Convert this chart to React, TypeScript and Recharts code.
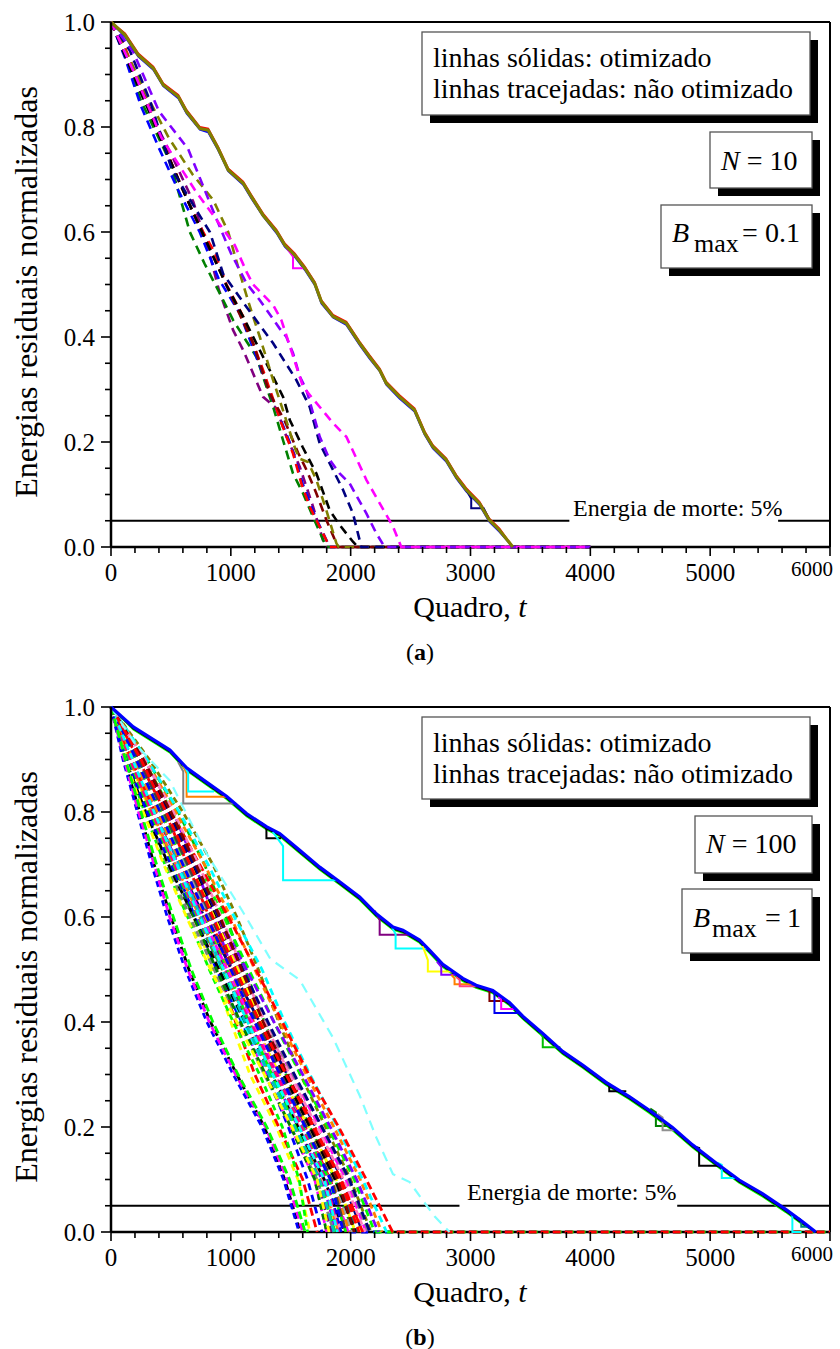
import React from 'react';
import { LineChart, Line, XAxis, YAxis, ReferenceLine, Label } from 'recharts';

const FONT = '"Liberation Serif", "Times New Roman", serif';

// ---------- axes ----------
const X_TICKS = [0, 200, 400, 600, 800, 1000, 1200, 1400, 1600, 1800, 2000, 2200, 2400, 2600, 2800, 3000, 3200, 3400, 3600, 3800, 4000, 4200, 4400, 4600, 4800, 5000, 5200, 5400, 5600, 5800, 6000];
const Y_TICKS = [0, 0.05, 0.1, 0.15, 0.2, 0.25, 0.3, 0.35, 0.4, 0.45, 0.5, 0.55, 0.6, 0.65, 0.7, 0.75, 0.8, 0.85, 0.9, 0.95, 1];
const DEATH_LEVEL = 0.05;

// ---------- panel (a): N = 10, Bmax = 0.1 ----------
type P = [number, number][];
const DASH_A_PURPLE: P = [[0, 1], [90, 0.95], [186, 0.9], [269, 0.854], [519, 0.74], [686, 0.658], [825, 0.556], [900, 0.49], [1019, 0.413], [1103, 0.375], [1269, 0.286], [1300, 0.28], [1381, 0.264], [1464, 0.21], [1575, 0.153], [1686, 0.077], [1769, 0.013], [1800, 0], [4000, 0]];
const DASH_A_GREEN: P = [[0, 1], [110, 0.94], [250, 0.85], [492, 0.734], [658, 0.6], [780, 0.54], [908, 0.483], [1019, 0.432], [1214, 0.362], [1353, 0.267], [1440, 0.2], [1519, 0.14], [1603, 0.102], [1700, 0.05], [1797, 0], [4000, 0]];
const DASH_A_BLUE: P = [[0, 1], [120, 0.93], [250, 0.84], [400, 0.76], [560, 0.68], [740, 0.6], [900, 0.51], [1075, 0.445], [1200, 0.37], [1350, 0.28], [1506, 0.191], [1600, 0.12], [1700, 0.06], [1825, 0], [4000, 0]];
const DASH_A_RED: P = [[0, 1], [100, 0.96], [230, 0.89], [400, 0.79], [560, 0.7], [720, 0.62], [867, 0.56], [964, 0.5], [1103, 0.439], [1269, 0.337], [1422, 0.236], [1519, 0.178], [1590, 0.12], [1658, 0.077], [1760, 0.03], [1825, 0], [4000, 0]];
const DASH_A_MAROON: P = [[0, 1], [120, 0.94], [280, 0.86], [450, 0.76], [620, 0.67], [800, 0.58], [960, 0.5], [1060, 0.45], [1186, 0.388], [1325, 0.292], [1450, 0.24], [1560, 0.18], [1631, 0.147], [1714, 0.102], [1800, 0.05], [1894, 0], [4000, 0]];
const DASH_A_BLACK: P = [[0, 1], [110, 0.94], [260, 0.86], [430, 0.77], [600, 0.68], [780, 0.59], [960, 0.5], [1100, 0.44], [1228, 0.381], [1340, 0.33], [1436, 0.286], [1492, 0.242], [1600, 0.19], [1714, 0.14], [1825, 0.07], [1908, 0.042], [2019, 0.01], [2061, 0], [4000, 0]];
const DASH_A_OLIVE: P = [[0, 1], [130, 0.94], [300, 0.86], [480, 0.78], [680, 0.71], [853, 0.661], [978, 0.6], [1040, 0.55], [1103, 0.5], [1170, 0.45], [1242, 0.4], [1350, 0.32], [1450, 0.25], [1540, 0.185], [1575, 0.168], [1644, 0.162], [1714, 0.128], [1797, 0.07], [1881, 0.007], [1900, 0], [4000, 0]];
const DASH_A_NAVY: P = [[0, 1], [158, 0.945], [325, 0.85], [506, 0.72], [714, 0.641], [825, 0.6], [936, 0.52], [1131, 0.457], [1353, 0.388], [1547, 0.318], [1658, 0.267], [1742, 0.197], [1936, 0.109], [2019, 0.064], [2089, 0], [4000, 0]];
const DASH_A_VIOLET: P = [[0, 1], [186, 0.943], [400, 0.83], [644, 0.758], [867, 0.632], [1000, 0.56], [1131, 0.502], [1242, 0.47], [1408, 0.416], [1464, 0.4], [1519, 0.369], [1575, 0.325], [1631, 0.299], [1742, 0.21], [1825, 0.166], [1908, 0.14], [1992, 0.121], [2131, 0.064], [2214, 0.026], [2283, 0], [4000, 0]];
const DASH_A_MAGENTA: P = [[0, 1], [200, 0.9], [420, 0.78], [700, 0.68], [1033, 0.575], [1131, 0.524], [1186, 0.5], [1353, 0.461], [1422, 0.432], [1603, 0.305], [1853, 0.236], [1964, 0.21], [2131, 0.128], [2353, 0.039], [2422, 0], [4000, 0]];

const OPT_A_T = [0, 117, 228, 353, 436, 561, 631, 742, 811, 894, 978, 1103, 1172, 1269, 1381, 1450, 1533, 1617, 1700, 1756, 1853, 1964, 2075, 2158, 2242, 2297, 2408, 2533, 2617, 2686, 2797, 2881, 2964, 3075, 3158, 3242, 3353];
const OPT_A_OLIVE = [1, 0.975, 0.937, 0.912, 0.88, 0.858, 0.829, 0.797, 0.794, 0.759, 0.718, 0.693, 0.667, 0.632, 0.601, 0.575, 0.556, 0.531, 0.502, 0.467, 0.439, 0.426, 0.388, 0.362, 0.337, 0.312, 0.286, 0.261, 0.217, 0.191, 0.166, 0.134, 0.109, 0.083, 0.051, 0.032, 0];
const OPT_A_BLUE = [1, 0.972, 0.934, 0.909, 0.878, 0.855, 0.826, 0.795, 0.79, 0.756, 0.716, 0.69, 0.664, 0.63, 0.598, 0.572, 0.553, 0.528, 0.499, 0.464, 0.437, 0.423, 0.385, 0.359, 0.335, 0.309, 0.283, 0.258, 0.214, 0.188, 0.163, 0.131, 0.106, 0.08, 0.048, 0.029, 0];
const OPT_A_RED = [1, 0.978, 0.94, 0.915, 0.883, 0.861, 0.832, 0.8, 0.797, 0.762, 0.721, 0.696, 0.67, 0.635, 0.604, 0.578, 0.559, 0.534, 0.505, 0.47, 0.442, 0.429, 0.391, 0.365, 0.34, 0.315, 0.289, 0.264, 0.22, 0.194, 0.169, 0.137, 0.112, 0.086, 0.054, 0.035, 0];
const OPT_A_MAGENTA_STEP: P = [[1450, 0.575], [1519, 0.553], [1519, 0.531], [1617, 0.531], [1700, 0.502]];
const OPT_A_NAVY_STEP: P = [[2964, 0.109], [3006, 0.092], [3006, 0.074], [3110, 0.074], [3158, 0.051]];

// ---------- panel (b): N = 100, Bmax = 1 ----------
// time at which each unoptimised node reaches the energy levels below
const DASH_B_LEVELS = [1, 0.9, 0.8, 0.7, 0.6, 0.5, 0.4, 0.3, 0.2, 0.1, 0];
const DASH_B_TIMES: number[][] = [
  [0, 110, 240, 360, 500, 650, 830, 1050, 1280, 1450, 1580],
  [0, 150, 330, 520, 690, 850, 1000, 1160, 1380, 1560, 1660],
  [0, 200, 420, 600, 760, 900, 1040, 1200, 1400, 1600, 1720],
  [0, 130, 280, 450, 640, 820, 1020, 1240, 1430, 1570, 1640],
  [0, 170, 350, 530, 700, 880, 1090, 1300, 1480, 1640, 1760],
  [0, 250, 470, 650, 810, 960, 1110, 1290, 1500, 1700, 1800],
  [0, 140, 300, 470, 660, 860, 1070, 1280, 1500, 1720, 1860],
  [0, 210, 400, 580, 750, 920, 1100, 1320, 1530, 1720, 1830],
  [0, 160, 340, 540, 740, 940, 1130, 1330, 1560, 1760, 1900],
  [0, 280, 520, 700, 860, 1010, 1160, 1350, 1560, 1760, 1880],
  [0, 180, 370, 560, 760, 960, 1160, 1370, 1570, 1770, 1920],
  [0, 120, 290, 480, 690, 900, 1120, 1340, 1560, 1780, 1950],
  [0, 230, 450, 640, 820, 1000, 1190, 1400, 1620, 1830, 1970],
  [0, 190, 380, 570, 770, 980, 1200, 1420, 1640, 1850, 2000],
  [0, 300, 560, 780, 960, 1120, 1280, 1460, 1660, 1870, 2020],
  [0, 150, 320, 510, 720, 950, 1180, 1410, 1650, 1880, 2040],
  [0, 220, 430, 630, 830, 1040, 1250, 1460, 1680, 1900, 2060],
  [0, 260, 490, 690, 880, 1070, 1270, 1480, 1700, 1920, 2080],
  [0, 170, 360, 560, 780, 1010, 1240, 1470, 1710, 1930, 2100],
  [0, 240, 460, 670, 870, 1080, 1290, 1510, 1740, 1960, 2130],
  [0, 200, 410, 620, 840, 1060, 1290, 1520, 1760, 1980, 2150],
  [0, 320, 600, 850, 1050, 1230, 1400, 1580, 1790, 2000, 2170],
  [0, 270, 510, 730, 940, 1150, 1360, 1580, 1810, 2030, 2200],
  [0, 230, 450, 670, 900, 1130, 1360, 1600, 1830, 2050, 2230],
  [0, 290, 540, 780, 1000, 1200, 1410, 1630, 1860, 2080, 2260],
  [0, 300, 570, 810, 1030, 1260, 1450, 1660, 1890, 2100, 2300],
  [0, 260, 500, 740, 980, 1210, 1430, 1650, 1900, 2130, 2350],
  [0, 140, 310, 500, 690, 880, 1080, 1290, 1500, 1700, 1800],
  [0, 180, 380, 580, 770, 960, 1140, 1330, 1530, 1720, 1840],
  [0, 210, 420, 610, 790, 970, 1150, 1340, 1540, 1740, 1870],
  [0, 160, 350, 560, 760, 970, 1180, 1390, 1610, 1820, 1980],
  [0, 190, 400, 610, 810, 1010, 1210, 1430, 1650, 1860, 2010],
  [0, 250, 480, 680, 870, 1050, 1230, 1440, 1660, 1870, 2040],
  [0, 130, 300, 500, 710, 930, 1150, 1380, 1600, 1800, 1920],
  [0, 220, 440, 660, 860, 1060, 1260, 1470, 1690, 1910, 2090],
  [0, 170, 370, 580, 800, 1020, 1240, 1470, 1700, 1910, 2070],
  [0, 280, 520, 730, 920, 1100, 1280, 1490, 1720, 1940, 2120],
  [0, 200, 390, 570, 750, 930, 1120, 1320, 1530, 1740, 1860],
  [0, 240, 470, 690, 900, 1100, 1310, 1530, 1760, 1990, 2160],
  [0, 150, 330, 520, 720, 930, 1150, 1370, 1600, 1820, 1960],
  [0, 190, 390, 590, 790, 990, 1200, 1410, 1630, 1840, 1990],
  [0, 230, 440, 640, 840, 1030, 1220, 1420, 1630, 1840, 1960],
  [0, 160, 340, 530, 730, 940, 1160, 1380, 1590, 1790, 1900],
  [0, 210, 410, 600, 800, 1000, 1200, 1410, 1620, 1830, 1940],
  [0, 270, 500, 710, 910, 1090, 1270, 1470, 1680, 1890, 2030],
  [0, 180, 360, 550, 740, 940, 1140, 1350, 1570, 1780, 1890],
  [0, 120, 270, 440, 630, 830, 1050, 1280, 1510, 1720, 1820],
  [0, 250, 460, 660, 850, 1040, 1240, 1460, 1690, 1920, 2100],
  [0, 100, 220, 340, 470, 620, 800, 1020, 1260, 1440, 1570],
  [0, 110, 230, 360, 490, 640, 820, 1040, 1290, 1470, 1600],
  [0, 120, 250, 380, 520, 670, 850, 1060, 1300, 1490, 1620],
];
const DASH_B_COLORS = [
  '#000000', '#ffff00', '#ff0000', '#00ff00', '#0000ff', '#ff00ff', '#808080', '#00ffff',
  '#ff8000', '#8000ff', '#ff80c0', '#000000', '#ff0000', '#0000ff', '#00c000', '#ffff00',
  '#008080', '#804000', '#000080', '#ff00ff', '#808080', '#808000', '#00ff00', '#8000ff',
  '#ff8000', '#00ffff', '#ff0000', '#008000', '#800080', '#00ff00', '#ff00ff', '#a0a0a0',
  '#000000', '#0000ff', '#ffff00', '#ff0000', '#ff80c0', '#00c0c0', '#000080', '#00ff00',
  '#ff8000', '#404040', '#ff0080', '#0000ff', '#800000', '#00ffff', '#ffff00', '#ff0000',
  '#0000ff', '#ff00ff', '#00ff00',
];
const DASH_B_TAIL_LINES = [22, 13, 26];
const DASH_B_TAIL_END = 6000;
const DASH_B_CYAN_OUTLIER: P = [[0, 1], [200, 0.93], [490, 0.86], [800, 0.72], [1100, 0.61], [1330, 0.52], [1575, 0.48], [1853, 0.37], [2075, 0.26], [2214, 0.18], [2353, 0.11], [2492, 0.095], [2603, 0.06], [2700, 0.03], [2825, 0]];

const OPT_B_T = [0, 186, 381, 492, 631, 797, 964, 1131, 1297, 1408, 1575, 1742, 1908, 2075, 2214, 2353, 2436, 2575, 2658, 2769, 2936, 3047, 3186, 3325, 3436, 3603, 3769, 3936, 4131, 4325, 4492, 4686, 4853, 5047, 5242, 5436, 5631, 5769, 5881];
const OPT_B_BLUE = [1, 0.962, 0.934, 0.918, 0.884, 0.857, 0.83, 0.797, 0.772, 0.759, 0.727, 0.695, 0.667, 0.638, 0.606, 0.581, 0.575, 0.556, 0.537, 0.51, 0.483, 0.47, 0.46, 0.437, 0.411, 0.378, 0.344, 0.318, 0.285, 0.258, 0.232, 0.199, 0.166, 0.132, 0.099, 0.073, 0.043, 0.02, 0];
const OPT_B_GREEN = [1, 0.957, 0.929, 0.913, 0.879, 0.852, 0.825, 0.792, 0.767, 0.754, 0.722, 0.69, 0.662, 0.633, 0.601, 0.576, 0.57, 0.551, 0.532, 0.505, 0.478, 0.465, 0.455, 0.432, 0.406, 0.373, 0.339, 0.313, 0.28, 0.253, 0.227, 0.194, 0.161, 0.127, 0.094, 0.068, 0.038, 0.015, 0];
const OPT_B_BLACK = [1, 0.959, 0.931, 0.915, 0.881, 0.854, 0.827, 0.794, 0.769, 0.756, 0.724, 0.692, 0.664, 0.635, 0.603, 0.578, 0.572, 0.553, 0.534, 0.507, 0.48, 0.467, 0.457, 0.434, 0.408, 0.375, 0.341, 0.315, 0.282, 0.255, 0.229, 0.196, 0.163, 0.129, 0.096, 0.07, 0.04, 0.017, 0];
const OPT_B_STEPS: { c: string; p: P }[] = [
  { c: '#808080', p: [[560, 0.895], [603, 0.877], [603, 0.816], [1045, 0.816]] },
  { c: '#ff8000', p: [[600, 0.89], [631, 0.873], [631, 0.829], [960, 0.829]] },
  { c: '#00ffff', p: [[610, 0.888], [644, 0.875], [644, 0.839], [860, 0.839]] },
  { c: '#000000', p: [[1250, 0.78], [1297, 0.772], [1297, 0.75], [1420, 0.75]] },
  { c: '#00ffff', p: [[1350, 0.762], [1436, 0.735], [1436, 0.67], [1905, 0.67]] },
  { c: '#800080', p: [[2200, 0.612], [2242, 0.594], [2242, 0.566], [2500, 0.566]] },
  { c: '#00ffff', p: [[2340, 0.583], [2375, 0.567], [2375, 0.54], [2640, 0.54]] },
  { c: '#ffff00', p: [[2600, 0.545], [2644, 0.518], [2644, 0.496], [2860, 0.496]] },
  { c: '#8000ff', p: [[2720, 0.515], [2756, 0.505], [2756, 0.49], [2880, 0.49]] },
  { c: '#ff8000', p: [[2840, 0.49], [2867, 0.483], [2867, 0.472], [3040, 0.472]] },
  { c: '#ff4080', p: [[2880, 0.486], [2910, 0.48], [2910, 0.468], [3060, 0.468]] },
  { c: '#800000', p: [[3120, 0.465], [3158, 0.458], [3158, 0.44], [3300, 0.44]] },
  { c: '#0000ee', p: [[3160, 0.462], [3200, 0.455], [3200, 0.417], [3410, 0.417]] },
  { c: '#ff00ff', p: [[3230, 0.448], [3256, 0.444], [3256, 0.425], [3380, 0.425]] },
  { c: '#00c000', p: [[3560, 0.387], [3603, 0.372], [3603, 0.352], [3750, 0.352]] },
  { c: '#000000', p: [[4100, 0.29], [4158, 0.282], [4158, 0.268], [4300, 0.268]] },
  { c: '#008000', p: [[4500, 0.235], [4547, 0.228], [4547, 0.202], [4680, 0.202]] },
  { c: '#909090', p: [[4560, 0.225], [4603, 0.218], [4603, 0.194], [4720, 0.194]] },
  { c: '#000000', p: [[4880, 0.162], [4908, 0.16], [4908, 0.126], [5083, 0.126]] },
  { c: '#00ffff', p: [[5060, 0.132], [5097, 0.128], [5097, 0.103], [5230, 0.103]] },
  { c: '#00ffff', p: [[5650, 0.04], [5686, 0.032], [5686, 0], [5760, 0]] },
  { c: '#008080', p: [[5740, 0.026], [5760, 0.022], [5760, 0.01], [5820, 0.01]] },
];

// ---------- helpers ----------
const toData = (p: P) => p.map(([t, e]) => ({ t, e }));
const zip = (ts: number[], es: number[]) => ts.map((t, i) => ({ t, e: es[i] }));

type Series = { key: string; color: string; data: { t: number; e: number }[]; width: number; dash?: string };

const A_DASHED: Series[] = [
  ['#800080', DASH_A_PURPLE], ['#008000', DASH_A_GREEN], ['#0000ff', DASH_A_BLUE], ['#ff0000', DASH_A_RED],
  ['#800000', DASH_A_MAROON], ['#000000', DASH_A_BLACK], ['#808000', DASH_A_OLIVE], ['#000080', DASH_A_NAVY],
  ['#8000ff', DASH_A_VIOLET], ['#ff00ff', DASH_A_MAGENTA],
].map(([c, p], i) => ({ key: 'ad' + i, color: c as string, data: toData(p as P), width: 2.6, dash: '9 6' }));

const A_SOLID: Series[] = [
  { key: 'as_r', color: '#ff0000', data: zip(OPT_A_T, OPT_A_RED), width: 2 },
  { key: 'as_b', color: '#0000ff', data: zip(OPT_A_T, OPT_A_BLUE), width: 2 },
  { key: 'as_m', color: '#ff00ff', data: toData(OPT_A_MAGENTA_STEP), width: 2 },
  { key: 'as_n', color: '#000080', data: toData(OPT_A_NAVY_STEP), width: 2 },
  { key: 'as_o', color: '#808000', data: zip(OPT_A_T, OPT_A_OLIVE), width: 3.2 },
];

const B_DASHED: Series[] = [
  ...DASH_B_TIMES.map((ts, i) => {
    const d = ts.map((t, j) => ({ t, e: DASH_B_LEVELS[j] }));
    if (DASH_B_TAIL_LINES.includes(i)) d.push({ t: DASH_B_TAIL_END, e: 0 });
    return { key: 'bd' + i, color: DASH_B_COLORS[i % DASH_B_COLORS.length], data: d, width: 2.8, dash: i % 3 === 0 ? '6 4' : i % 3 === 1 ? '7 5' : '8 4' };
  }),
  { key: 'bd_cy', color: '#80ffff', data: toData(DASH_B_CYAN_OUTLIER), width: 2.2, dash: '10 7' },
];

const B_SOLID: Series[] = [
  { key: 'bs_g', color: '#00ff00', data: zip(OPT_B_T, OPT_B_GREEN), width: 2 },
  { key: 'bs_k', color: '#000000', data: zip(OPT_B_T, OPT_B_BLACK), width: 2 },
  ...OPT_B_STEPS.map((s, i) => ({ key: 'bst' + i, color: s.c, data: toData(s.p), width: 2 })),
  { key: 'bs_b', color: '#0000ff', data: zip(OPT_B_T, OPT_B_BLUE), width: 3.2 },
];

// ---------- ticks ----------
const XTick = (props: any) => {
  const { x, y, payload } = props;
  const v = payload.value as number;
  const major = v % 1000 === 0;
  return (
    <g>
      <line x1={x} y1={y} x2={x} y2={y + (major ? 9 : 6)} stroke="#000" strokeWidth={1.6} />
      {major && v !== 6000 && (
        <text x={x} y={y + 34} textAnchor="middle" fontSize={25} fontFamily={FONT} fill="#000">{String(v)}</text>
      )}
      {v === 6000 && (
        <text x={x - 18} y={y + 29} textAnchor="middle" fontSize={21} fontFamily={FONT} fill="#000">{String(v)}</text>
      )}
    </g>
  );
};

const YTick = (props: any) => {
  const { x, y, payload } = props;
  const v = payload.value as number;
  const major = Math.round(v * 100) % 20 === 0;
  return (
    <g>
      <line x1={x - (major ? 10 : 6)} y1={y} x2={x} y2={y} stroke="#000" strokeWidth={1.6} />
      {major && (
        <text x={x - 16} y={y} dy="0.35em" textAnchor="end" fontSize={25} fontFamily={FONT} fill="#000">{v.toFixed(1)}</text>
      )}
    </g>
  );
};

const XTitle = () => (
  <text x={470} y={617} textAnchor="middle" fontSize={30} fontFamily={FONT} fill="#000">
    Quadro, <tspan fontStyle="italic">t</tspan>
  </text>
);
const YTitle = () => (
  <text x={37} y={292} transform="rotate(-90, 37, 292)" textAnchor="middle" fontSize={32} fontFamily={FONT} fill="#000">
    Energias residuais normalizadas
  </text>
);

function Panel({ dashed, solid, gapStart, gapEnd, letter }: { dashed: Series[]; solid: Series[]; gapStart: number; gapEnd: number; letter: string }) {
  return (
    <LineChart width={840} height={680} margin={{ top: 22, right: 10, bottom: 93, left: 0 }}>
      <XAxis
        type="number" dataKey="t" domain={[0, 6000]} ticks={X_TICKS} interval={0}
        tick={XTick} tickLine={false} tickSize={0} tickMargin={0} height={40}
        axisLine={false}
      >
        <Label content={XTitle} />
      </XAxis>
      <YAxis
        type="number" dataKey="e" domain={[0, 1]} ticks={Y_TICKS} interval={0}
        tick={YTick} tickLine={false} tickSize={0} tickMargin={0} width={111}
        axisLine={{ stroke: '#000', strokeWidth: 2.5 }}
      >
        <Label content={YTitle} />
      </YAxis>
      <ReferenceLine y={0} stroke="#000" strokeWidth={2.5} />
      <ReferenceLine y={1} stroke="#000" strokeWidth={2} />
      <ReferenceLine x={6000} stroke="#000" strokeWidth={2} />
      <ReferenceLine segment={[{ x: 0, y: DEATH_LEVEL }, { x: gapStart, y: DEATH_LEVEL }]} stroke="#000" strokeWidth={2.2} />
      <ReferenceLine segment={[{ x: gapEnd, y: DEATH_LEVEL }, { x: 6000, y: DEATH_LEVEL }]} stroke="#000" strokeWidth={2.2} />
      {dashed.map((s) => (
        <Line key={s.key} data={s.data} dataKey="e" type="linear" stroke={s.color} strokeWidth={s.width}
          strokeDasharray={s.dash} dot={false} activeDot={false} isAnimationActive={false} />
      ))}
      {solid.map((s) => (
        <Line key={s.key} data={s.data} dataKey="e" type="linear" stroke={s.color} strokeWidth={s.width}
          dot={false} activeDot={false} isAnimationActive={false} />
      ))}
      <text x={420} y={660} textAnchor="middle" fontSize={24} fontFamily={FONT} fill="#000">
        (<tspan fontWeight="bold">{letter}</tspan>)
      </text>
    </LineChart>
  );
}

function Box({ x, y, w, h, children }: { x: number; y: number; w: number; h: number; children: React.ReactNode }) {
  return (
    <g>
      <rect x={x + 8} y={y + 8} width={w} height={h} fill="#000" />
      <rect x={x} y={y} width={w} height={h} fill="#fff" stroke="#555" strokeWidth={1.3} />
      {children}
    </g>
  );
}

const T = (p: any) => <text fontFamily={FONT} fontSize={28} fill="#000" {...p} />;

function Overlay() {
  return (
    <svg width={840} height={1349} style={{ position: 'absolute', left: 0, top: 0, pointerEvents: 'none' }}>
      {/* panel a */}
      <Box x={422} y={32} w={388} h={83}>
        <T x={433} y={67}>linhas sólidas: otimizado</T>
        <T x={433} y={98}>linhas tracejadas: não otimizado</T>
      </Box>
      <Box x={710} y={132} w={102} h={56}>
        <T x={721} y={170}><tspan fontStyle="italic">N</tspan> = 10</T>
      </Box>
      <Box x={661} y={205} w={151} h={63}>
        <T x={672} y={242} fontStyle="italic">B</T>
        <T x={694} y={252} fontSize={26}>max</T>
        <T x={742} y={242}>=</T>
        <T x={765} y={242}>0.1</T>
      </Box>
      <text x={573} y={516} fontFamily={FONT} fontSize={24} fill="#000">Energia de morte: 5%</text>
      {/* panel b */}
      <Box x={422} y={717} w={388} h={82}>
        <T x={433} y={752}>linhas sólidas: otimizado</T>
        <T x={433} y={783}>linhas tracejadas: não otimizado</T>
      </Box>
      <Box x={695} y={816} w={117} h={57}>
        <T x={706} y={853}><tspan fontStyle="italic">N</tspan> = 100</T>
      </Box>
      <Box x={682} y={889} w={130} h={64}>
        <T x={693} y={927} fontStyle="italic">B</T>
        <T x={712} y={937} fontSize={26}>max</T>
        <T x={765} y={927}>=</T>
        <T x={787} y={927}>1</T>
      </Box>
      <text x={467} y={1200} fontFamily={FONT} fontSize={24} fill="#000">Energia de morte: 5%</text>
    </svg>
  );
}

export default function App() {
  return (
    <div style={{ position: 'absolute', left: 0, top: 0, width: 840, height: 1349, background: '#fff', overflow: 'hidden' }}>
      <div style={{ position: 'absolute', left: 0, top: 0 }}>
        <Panel dashed={A_DASHED} solid={A_SOLID} gapStart={3825} gapEnd={5567} letter="a" />
      </div>
      <div style={{ position: 'absolute', left: 0, top: 685 }}>
        <Panel dashed={B_DASHED} solid={B_SOLID} gapStart={2908} gapEnd={4725} letter="b" />
      </div>
      <Overlay />
    </div>
  );
}
